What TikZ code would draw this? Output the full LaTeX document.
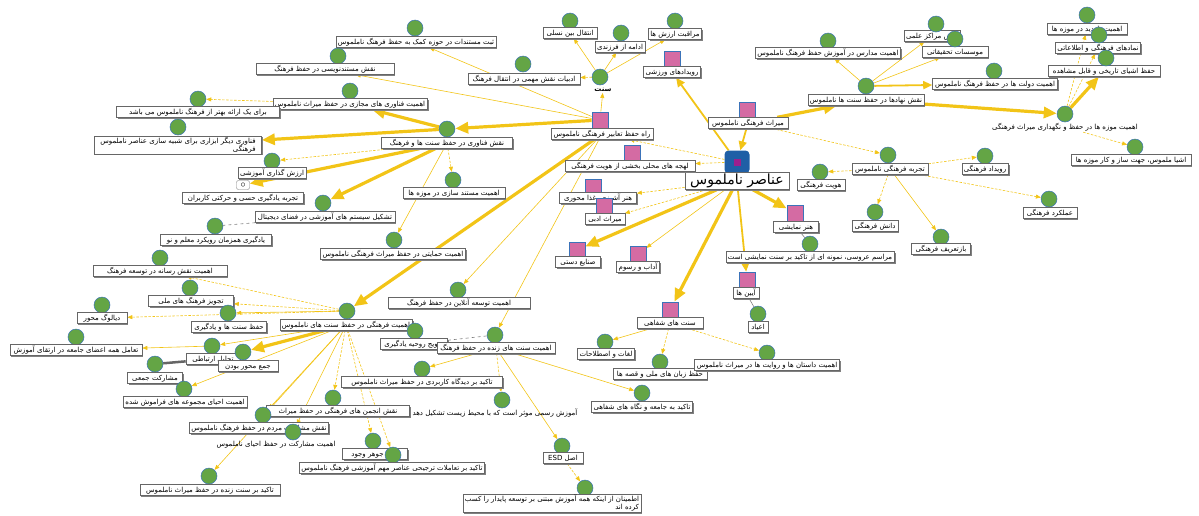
\documentclass[tikz,border=0pt]{standalone}
\usepackage{fontspec}
\usetikzlibrary{arrows.meta,shadows,backgrounds}
\newfontfamily\fa[Script=Arabic]{DejaVu Sans}
\TeXXeTstate=1
\definecolor{gold}{HTML}{F2C417}
\definecolor{leafgreen}{HTML}{64A545}
\definecolor{rimblue}{HTML}{3B73B9}
\definecolor{catpink}{HTML}{D46BA3}
\definecolor{hubblue}{HTML}{1F5FA6}
\definecolor{dotpurple}{HTML}{9B1F8E}
\tikzset{
  leaf/.style={circle, fill=leafgreen, draw=rimblue, line width=0.5pt, minimum size=16pt, inner sep=0pt},
  cat/.style={rectangle, fill=catpink, draw=rimblue, line width=0.7pt, minimum size=16pt, inner sep=0pt},
  corebox/.style={rectangle, rounded corners=4pt, fill=hubblue, minimum width=25pt, minimum height=23pt},
  coredot/.style={rectangle, fill=dotpurple, minimum size=7pt, inner sep=0pt},
  iconbox/.style={rectangle, rounded corners=2pt, draw=gray, fill=white, minimum width=13pt, minimum height=9pt, inner sep=0pt},
  rtl/.style={execute at begin node=\beginR, execute at end node=\endR},
  boxed/.style={rectangle, fill=white, draw=gray!80!black, line width=0.6pt, inner xsep=2pt, inner ysep=1pt,
    font=\fa\fontsize{7}{8}\selectfont,
    drop shadow={shadow xshift=1.4pt, shadow yshift=-1.4pt, fill=black!50, opacity=1}},
  lbl/.style={boxed, rtl, text height=6.5pt, text depth=2.3pt},
  lbltwo/.style={boxed, align=right},
  caption/.style={font=\fa\fontsize{7}{8}\selectfont, inner sep=1pt, rtl},
  bigtext/.style={font=\fa\fontsize{14}{16}\selectfont, text height=11pt, text depth=4pt},
  link/.style={draw=gold, line width=0.6pt, -{Triangle[length=5pt,width=4pt]}},
  hint/.style={link, dash pattern=on 2.5pt off 1.5pt},
  strong/.style={draw=gold, line width=1.8pt, -{Triangle[length=9pt,width=8pt]}},
  heavy/.style={draw=gold, line width=3.2pt, -{Triangle[length=13pt,width=11pt]}},
  tie/.style={draw=gray, line width=0.6pt},
}
\begin{document}
\begin{tikzpicture}[x=1pt,y=-1pt]
  \useasboundingbox (0,0) rectangle (1199,515);

  % core
  \node[corebox] (core) at (737,162) {};
  \node[coredot] (core-dot) at (core) {};
  \node[lbl, bigtext, minimum width=104] (core-l) at (737,181) {عناصر ناملموس};

  % categories
  \node[cat] (hefz) at (600,120) {};
  \node[lbl, minimum width=102] (hefz-l) at (602,134) {راه حفظ تعابیر فرهنگی ناملموس};
  \node[cat] (varzesh) at (672,59) {};
  \node[lbl, minimum width=57] (varzesh-l) at (672,72) {رویدادهای ورزشی};
  \node[cat] (miras) at (747,110) {};
  \node[lbl, minimum width=80] (miras-l) at (748,123) {میراث فرهنگی ناملموس};
  \node[cat] (lahje) at (632,153) {};
  \node[lbl, minimum width=130] (lahje-l) at (630,166) {لهجه های محلی بخشی از هویت فرهنگی};
  \node[cat] (ashpazi) at (593,187) {};
  \node[lbl, minimum width=77] (ashpazi-l) at (598,198) {هنر آشپزی، غذا محوری};
  \node[cat] (adabi) at (604,206) {};
  \node[lbl, minimum width=40] (adabi-l) at (605,219) {میراث ادبی};
  \node[cat] (sanaye) at (577,250) {};
  \node[lbl, minimum width=45] (sanaye-l) at (578,262) {صنایع دستی};
  \node[cat] (adab) at (638,254) {};
  \node[lbl, minimum width=43] (adab-l) at (638,267) {آداب و رسوم};
  \node[cat] (namayesh) at (795,213) {};
  \node[lbl, minimum width=45] (namayesh-l) at (796,227) {هنر نمایشی};
  \node[cat] (aein) at (747,280) {};
  \node[lbl, minimum width=26] (aein-l) at (746,293) {آیین ها};
  \node[cat] (shafahi) at (670,310) {};
  \node[lbl, minimum width=66] (shafahi-l) at (670,323) {سنت های شفاهی};

  % top cluster
  \node[leaf] (sonnat) at (600,77) {};
  \node[caption, font=\fa\bfseries\fontsize{7}{8}\selectfont] (sonnat-l) at (603,90) {سنت};
  \node[leaf] (nasl) at (570,21) {};
  \node[lbl, minimum width=54] (nasl-l) at (570,33) {انتقال بین نسلی};
  \node[leaf] (farzand) at (621,33) {};
  \node[lbl, minimum width=45] (farzand-l) at (620,47) {ادامه از فرزندی};
  \node[leaf] (arzesh) at (675,21) {};
  \node[lbl, minimum width=50] (arzesh-l) at (675,34) {مراقبت ارزش ها};
  \node[leaf] (adabiat) at (523,64) {};
  \node[lbl, minimum width=112] (adabiat-l) at (524,79) {ادبیات نقش مهمی در انتقال فرهنگ};
  \node[leaf] (sabt) at (415,28) {};
  \node[lbl, minimum width=160] (sabt-l) at (416,42) {ثبت مستندات در حوزه کمک به حفظ فرهنگ ناملموس};
  \node[leaf] (mostanad) at (338,56) {};
  \node[lbl, minimum width=138] (mostanad-l) at (325,69) {نقش مستندنویسی در حفظ فرهنگ};

  % technology cluster
  \node[leaf] (fanavari) at (447,129) {};
  \node[lbl, minimum width=131] (fanavari-l) at (447,143) {نقش فناوری در حفظ سنت ها و فرهنگ};
  \node[leaf] (majazi) at (350,91) {};
  \node[lbl, minimum width=126] (majazi-l) at (350,104) {اهمیت فناوری های مجازی در حفظ میراث ناملموس};
  \node[leaf] (erae) at (198,99) {};
  \node[lbl, minimum width=163] (erae-l) at (198,112) {برای یک ارائه بهتر از فرهنگ ناملموس می باشد};
  \node[leaf] (abzar) at (178,127) {};
  \node[lbltwo, minimum width=167] (abzar-l) at (178,145) {\beginR فناوری دیگر ابزاری برای شبیه سازی عناصر ناملموس\endR\\\beginR فرهنگی\endR};
  \node[leaf] (arzeshgozari) at (272,161) {};
  \node[lbl, minimum width=67] (arzeshgozari-l) at (272,173) {ارزش گذاری آموزشی};
  \node[iconbox] (hessi) at (243,185) {$\circ$};
  \node[lbl, minimum width=121] (hessi-l) at (243,198) {تجربه یادگیری حسی و حرکتی کاربران};
  \node[leaf] (doshtum) at (323,203) {};
  \node[lbl, minimum width=140] (doshtum-l) at (325,217) {تشکیل سیستم های آموزشی در فضای دیجیتال};
  \node[leaf] (muzemostanad) at (453,180) {};
  \node[lbl, minimum width=102] (muzemostanad-l) at (454,193) {اهمیت مستند سازی در موزه ها};
  \node[leaf] (hemayat) at (394,240) {};
  \node[lbl, minimum width=143] (hemayat-l) at (393,254) {اهمیت حمایتی در حفظ میراث فرهنگی ناملموس};
  \node[leaf] (hamzaman) at (215,226) {};
  \node[lbl, minimum width=111] (hamzaman-l) at (216,240) {یادگیری همزمان رویکرد معلم و نو};
  \node[leaf] (online) at (458,290) {};
  \node[lbl, minimum width=142] (online-l) at (459,303) {اهمیت توسعه آنلاین در حفظ فرهنگ};

  % community cluster
  \node[leaf] (jamei) at (347,311) {};
  \node[lbl, minimum width=122] (jamei-l) at (346,325) {اهمیت فرهنگی در حفظ سنت های ناملموس};
  \node[leaf] (resane) at (160,258) {};
  \node[lbl, minimum width=134] (resane-l) at (160,271) {اهمیت نقش رسانه در توسعه فرهنگ};
  \node[leaf] (melli) at (190,288) {};
  \node[lbl, minimum width=85] (melli-l) at (191,301) {تجویز فرهنگ های ملی};
  \node[leaf] (yadgiri) at (228,313) {};
  \node[lbl, minimum width=75] (yadgiri-l) at (229,327) {حفظ سنت ها و یادگیری};
  \node[leaf] (dialog) at (102,305) {};
  \node[lbl, minimum width=50] (dialog-l) at (102,318) {دیالوگ محور};
  \node[leaf] (taamol) at (76,337) {};
  \node[lbl, minimum width=132] (taamol-l) at (76,350) {تعامل همه اعضای جامعه در ارتقای آموزش};
  \node[leaf] (tahlil) at (212,346) {};
  \node[lbl, minimum width=54] (tahlil-l) at (213,359) {تحلیل ارتباطی};
  \node[leaf] (mehvar) at (243,352) {};
  \node[lbl, minimum width=60] (mehvar-l) at (248,366) {جمع محور بودن};
  \node[leaf] (mosharekat) at (155,364) {};
  \node[lbl, minimum width=55] (mosharekat-l) at (155,378) {مشارکت جمعی};
  \node[leaf] (ehya) at (184,389) {};
  \node[lbl, minimum width=124] (ehya-l) at (185,402) {اهمیت احیای مجموعه های فراموش شده};
  \node[leaf] (anjoman) at (333,398) {};
  \node[lbl, minimum width=143] (anjoman-l) at (338,411) {نقش انجمن های فرهنگی در حفظ میراث};
  \node[leaf] (mardom) at (263,415) {};
  \node[lbl, minimum width=123] (mardom-l) at (259,428) {نقش مشارکت مردم در حفظ فرهنگ ناملموس};
  \node[leaf] (ehyaname) at (293,432) {};
  \node[caption] (ehyaname-l) at (276,445) {اهمیت مشارکت در حفظ احیای ناملموس};
  \node[leaf] (johar) at (373,441) {};
  \node[lbl, minimum width=65] (johar-l) at (375,454) {ثبات جوهر وجود};
  \node[leaf] (tarjihi) at (393,455) {};
  \node[lbl, minimum width=179] (tarjihi-l) at (392,468) {تاکید بر تعاملات ترجیحی عناصر مهم آموزشی فرهنگ ناملموس};
  \node[leaf] (zende) at (209,476) {};
  \node[lbl, minimum width=140] (zende-l) at (210,490) {تاکید بر سنت زنده در حفظ میراث ناملموس};

  % living tradition cluster
  \node[leaf] (tarvij) at (415,331) {};
  \node[lbl, minimum width=67] (tarvij-l) at (414,344) {ترویج روحیه یادگیری};
  \node[leaf] (sonnatzende) at (495,335) {};
  \node[lbl, minimum width=118] (sonnatzende-l) at (496,348) {اهمیت سنت های زنده در حفظ فرهنگ};
  \node[leaf] (karbordi) at (422,369) {};
  \node[lbl, minimum width=161] (karbordi-l) at (422,382) {تاکید بر دیدگاه کاربردی در حفظ میراث ناملموس};
  \node[leaf] (rasmi) at (502,400) {};
  \node[caption] (rasmi-l) at (495,413) {آموزش رسمی موثر است که با محیط زیست تشکیل دهد};
  \node[leaf] (esd) at (562,446) {};
  \node[lbl, minimum width=40] (esd-l) at (563,458) {اصل \beginL ESD\endL};
  \node[leaf] (paydar) at (585,488) {};
  \node[lbltwo, minimum width=115] (paydar-l) at (552,503) {\beginR اطمینان از اینکه همه آموزش مبتنی بر توسعه پایدار را کسب\endR\\\beginR کرده اند\endR};
  \node[leaf] (jameshenasi) at (642,393) {};
  \node[lbl, minimum width=101] (jameshenasi-l) at (642,407) {تاکید به جامعه و نگاه های شفاهی};

  % oral tradition leaves
  \node[leaf] (loghat) at (605,342) {};
  \node[lbl, minimum width=50] (loghat-l) at (606,354) {لغات و اصطلاحات};
  \node[leaf] (zaban) at (660,362) {};
  \node[lbl, minimum width=94] (zaban-l) at (660,374) {حفظ زبان های ملی و قصه ها};
  \node[leaf] (dastan) at (767,353) {};
  \node[lbl, minimum width=128] (dastan-l) at (767,365) {اهمیت داستان ها و روایت ها در میراث ناملموس};
  \node[leaf] (aroosi) at (810,244) {};
  \node[lbl, minimum width=154] (aroosi-l) at (810,257) {مراسم عروسی، نمونه ای از تاکید بر سنت نمایشی است};
  \node[leaf] (eyad) at (758,314) {};
  \node[lbl, minimum width=20] (eyad-l) at (758,327) {اعیاد};

  % institutions cluster
  \node[leaf] (nahad) at (866,86) {};
  \node[lbl, minimum width=109] (nahad-l) at (866,100) {نقش نهادها در حفظ سنت ها ناملموس};
  \node[leaf] (madares) at (828,41) {};
  \node[lbl, minimum width=140] (madares-l) at (828,53) {اهمیت مدارس در آموزش حفظ فرهنگ ناملموس};
  \node[lbl, minimum width=38] (marakez-l) at (932,36) {نقش مراکز علمی};
  \node[leaf] (marakez) at (936,24) {};
  \node[lbl, minimum width=66] (tahghighat-l) at (955,52) {موسسات تحقیقاتی};
  \node[leaf] (tahghighat) at (955,39) {};
  \node[leaf] (dolat) at (994,71) {};
  \node[lbl, minimum width=125] (dolat-l) at (995,84) {اهمیت دولت ها در حفظ فرهنگ ناملموس};
  \node[leaf] (muzeha) at (1065,114) {};
  \node[caption] (muzeha-l) at (1065,127) {اهمیت موزه ها در حفظ و نگهداری میراث فرهنگی};
  \node[leaf] (bazdid) at (1087,15) {};
  \node[lbl, minimum width=80] (bazdid-l) at (1087,29) {اهمیت بازدید در موزه ها};
  \node[lbl, minimum width=84] (namad-l) at (1098,48) {نمادهای فرهنگی و اطلاعاتی};
  \node[leaf] (namad) at (1099,35) {};
  \node[lbl, minimum width=112] (ashya-l) at (1104,71) {حفظ اشیای تاریخی و قابل مشاهده};
  \node[leaf] (ashya) at (1106,58) {};
  \node[leaf] (malmus) at (1135,147) {};
  \node[lbl, minimum width=120] (malmus-l) at (1131,160) {اشیا ملموس، جهت ساز و کار موزه ها};

  % experience cluster
  \node[leaf] (tajrobe) at (888,155) {};
  \node[lbl, minimum width=76] (tajrobe-l) at (890,169) {تجربه فرهنگی ناملموس};
  \node[leaf] (hoviat) at (820,172) {};
  \node[lbl, minimum width=48] (hoviat-l) at (821,185) {هویت فرهنگی};
  \node[leaf] (danesh) at (875,212) {};
  \node[lbl, minimum width=46] (danesh-l) at (875,226) {دانش فرهنگی};
  \node[leaf] (baztarif) at (941,237) {};
  \node[lbl, minimum width=59] (baztarif-l) at (941,249) {بازتعریف فرهنگی};
  \node[leaf] (rooydad) at (985,156) {};
  \node[lbl, minimum width=46] (rooydad-l) at (985,169) {رویداد فرهنگی};
  \node[leaf] (amalkard) at (1049,199) {};
  \node[lbl, minimum width=54] (amalkard-l) at (1050,213) {عملکرد فرهنگی};

  \begin{scope}[on background layer]
    % from the core
    \draw[strong] (miras-l) -- (core);
    \draw[strong] (core) -- (varzesh-l);
    \draw[hint] (core) -- (hefz-l);
    \draw[hint] (core) -- (lahje-l);
    \draw[hint] (core-l) -- (ashpazi-l);
    \draw[hint] (core-l) -- (adabi-l);
    \draw[heavy] (core-l) -- (sanaye);
    \draw[link] (core-l) -- (adab);
    \draw[heavy] (core-l) -- (namayesh);
    \draw[strong] (core-l) -- (aein);
    \draw[heavy] (core-l) -- (shafahi);
    % heritage branch
    \draw[heavy] (miras-l) -- (nahad-l);
    \draw[hint] (miras-l) -- (tajrobe);
    \draw[link] (nahad) -- (madares-l);
    \draw[link] (nahad) -- (marakez-l);
    \draw[link] (nahad) -- (tahghighat-l);
    \draw[strong] (nahad) -- (dolat-l);
    \draw[heavy] (nahad-l) -- (muzeha);
    \draw[hint] (muzeha) -- (bazdid-l);
    \draw[hint] (muzeha) -- (namad-l);
    \draw[heavy] (muzeha) -- (ashya-l);
    \draw[hint] (muzeha-l) -- (malmus);
    \draw[hint] (tajrobe-l) -- (hoviat);
    \draw[hint] (tajrobe-l) -- (danesh);
    \draw[link] (tajrobe-l) -- (baztarif);
    \draw[hint] (tajrobe-l) -- (rooydad);
    \draw[hint] (tajrobe-l) -- (amalkard);
    % preservation branch
    \draw[link] (hefz) -- (sonnat-l);
    \draw[link] (sonnat) -- (nasl-l);
    \draw[link] (sonnat) -- (farzand-l);
    \draw[link] (sonnat) -- (arzesh-l);
    \draw[hint] (sonnat) -- (adabiat-l);
    \draw[link] (hefz) -- (sabt-l);
    \draw[link] (hefz) -- (mostanad-l);
    \draw[heavy] (hefz) -- (fanavari);
    \draw[heavy] (hefz-l) -- (jamei);
    \draw[link] (hefz-l) -- (online);
    \draw[link] (hefz-l) -- (sonnatzende);
    % technology
    \draw[heavy] (fanavari) -- (majazi-l);
    \draw[heavy] (fanavari) -- (abzar-l);
    \draw[hint] (majazi-l) -- (erae);
    \draw[hint] (fanavari-l) -- (arzeshgozari);
    \draw[heavy] (fanavari-l) -- (hessi);
    \draw[heavy] (fanavari-l) -- (doshtum);
    \draw[hint] (fanavari-l) -- (muzemostanad);
    \draw[link] (fanavari-l) -- (hemayat);
    \draw[tie, dashed] (doshtum-l) -- (hamzaman);
    % community
    \draw[hint] (jamei) -- (resane-l);
    \draw[hint] (jamei) -- (melli-l);
    \draw[link] (jamei) -- (yadgiri);
    \draw[hint] (jamei) -- (dialog-l);
    \draw[link] (jamei-l) -- (tahlil);
    \draw[link] (tahlil) -- (taamol-l);
    \draw[heavy] (jamei-l) -- (mehvar);
    \draw[tie, line width=2.5pt, draw=gray!80!black] (mosharekat) -- (tahlil-l);
    \draw[link] (jamei-l) -- (ehya);
    \draw[link] (jamei-l) -- (mardom);
    \draw[link] (jamei-l) -- (ehyaname);
    \draw[link] (jamei-l) -- (zende);
    \draw[hint] (jamei-l) -- (anjoman);
    \draw[hint] (jamei-l) -- (johar);
    \draw[hint] (jamei-l) -- (tarjihi);
    % living tradition
    \draw[tie, dashed] (tarvij-l) -- (sonnatzende);
    \draw[link] (sonnatzende-l) -- (karbordi);
    \draw[hint] (sonnatzende-l) -- (rasmi);
    \draw[link] (sonnatzende-l) -- (esd);
    \draw[link] (sonnatzende-l) -- (jameshenasi);
    \draw[hint] (esd-l) -- (paydar);
    % oral tradition and rituals
    \draw[link] (shafahi-l) -- (loghat);
    \draw[hint] (shafahi-l) -- (zaban);
    \draw[hint] (shafahi-l) -- (dastan);
    \draw[tie] (namayesh-l) -- (aroosi);
    \draw[tie] (aein-l) -- (eyad);
  \end{scope}
\end{tikzpicture}
\end{document}
